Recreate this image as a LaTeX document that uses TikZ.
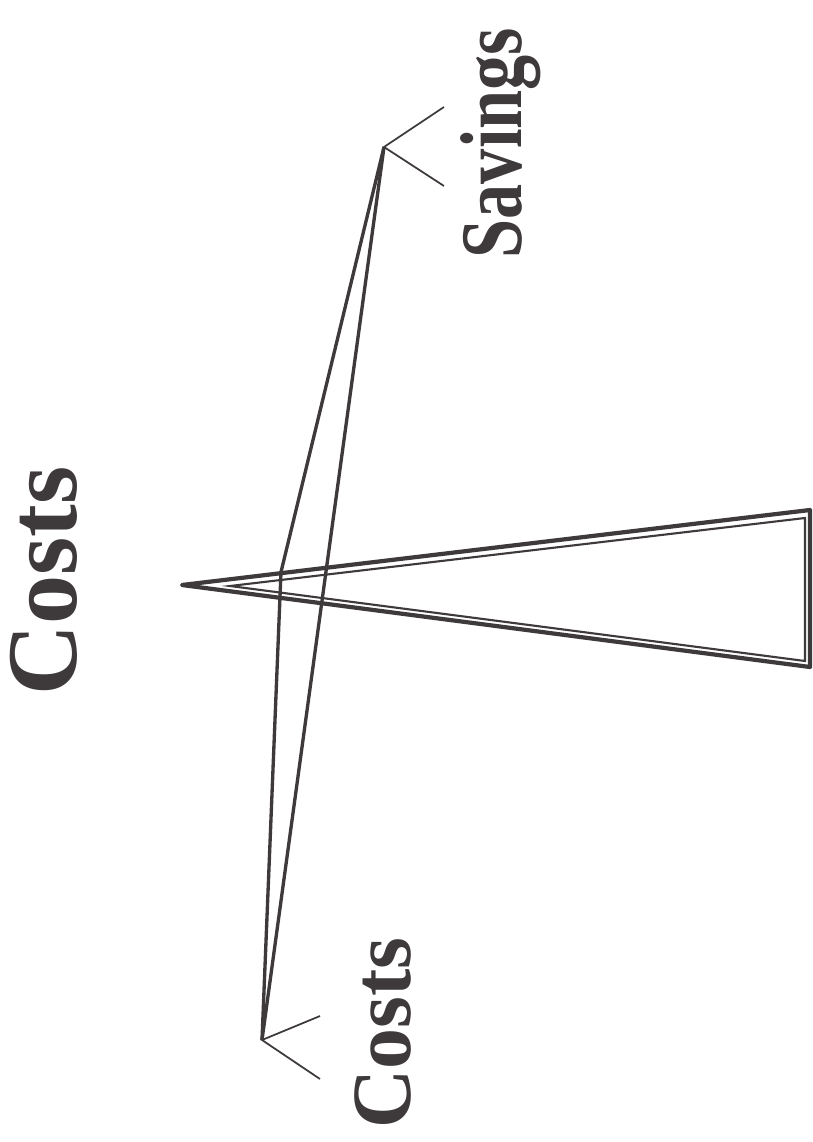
\documentclass[tikz,border=0pt]{standalone}
\usepackage{fontspec}
\setmainfont{Liberation Serif}
\usepackage{tikz}

\definecolor{ink}{RGB}{62,58,60}

\begin{document}
\begin{tikzpicture}[x=0.02cm, y=-0.02cm, every node/.style={text=ink, font=\bfseries, inner sep=0pt},
	beam/.style={draw=ink, line width=1.9pt, line join=miter},
	tick/.style={draw=ink, line width=1pt}]
	\useasboundingbox (0,0) rectangle (812,1142);
	% fulcrum
	\draw[ink, line width=2.4pt, line join=round] (182,585) -- (810,510) -- (810,667) -- cycle;
	\draw[ink, line width=1.2pt] (230,586) -- (805,518) -- (805,661) -- cycle;
	% beam
	\coordinate (savend) at (384,147);
	\coordinate (costend) at (262,1040);
	\coordinate (bend) at (281,572);
	\draw[beam] (savend) -- (bend) -- (costend);
	\draw[beam] (savend) -- (costend);
	\draw[tick] (444,107) -- (savend) -- (444,186);
	\draw[tick] (320,1016) -- (costend) -- (320,1079);
	% labels
	\node[rotate=90, anchor=base, font=\bfseries\fontsize{57}{60}\selectfont] (title) at (76,581) {\scalebox{0.98}[1]{Costs}};
	\node[rotate=90, anchor=base, font=\bfseries\fontsize{48}{50}\selectfont] (costs) at (410,1033) {\scalebox{0.97}[1]{Costs}};
	\node[rotate=90, anchor=base, font=\bfseries\fontsize{50}{52}\selectfont] (savings) at (521,143) {\scalebox{0.8}[1]{Savings}};
\end{tikzpicture}
\end{document}
